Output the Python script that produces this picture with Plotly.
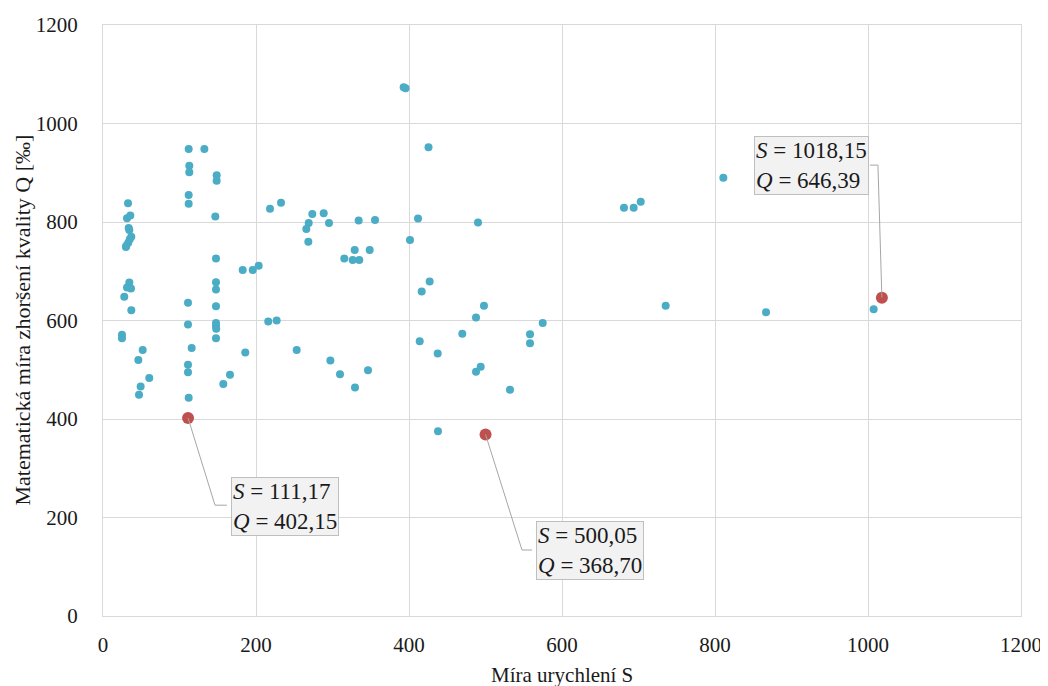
import plotly.graph_objects as go

# Blue data points (S, Q)
s_vals = [112, 132.5, 112.8, 112.8, 148.6, 148.6, 112, 112, 32.7, 146.8,
          31.4, 35.7, 33.6, 34.4, 37, 35, 33, 30.5, 30, 147.7,
          182.6, 195.7, 203.5, 34.4, 31.4, 36.6, 27.8, 147.7, 147.7, 37,
          111.1, 147.7, 111.1, 147.7, 147.7, 148, 147.7, 216, 227, 24.8,
          24.8, 115.9, 51.9, 46.2, 186, 111.1, 111.1, 60.5, 49.2, 47.1,
          166, 157.3, 112, 218.3, 232.7, 273.6, 288.5, 268.9, 265.8, 295.4,
          268.4, 334.2, 355.6, 411.8, 401.3, 425.5, 329, 348.6, 315.4, 326.4,
          335, 427, 416.6, 414, 437.5, 253.2, 297.2, 309.8, 346.4, 329.4,
          393, 395.5, 490.2, 498, 487.6, 574.8, 558.2, 558.2, 469.7, 493.7,
          487.6, 532, 437.9, 681, 693.7, 702.9, 810.9, 735.5, 866.7, 1007.4]
q_vals = [948, 948, 914, 901, 895, 884, 855, 837, 838, 811,
          807.5, 813, 788, 784, 770, 765, 758, 752, 749, 726,
          702.5, 702.5, 711, 677, 667, 665, 648, 677.5, 663, 621,
          636, 629, 592, 595, 589, 583, 564, 598, 600, 571,
          564, 544, 540, 520, 535, 510, 495, 483, 466, 449,
          490, 471, 443, 827, 839, 816, 818, 798, 786, 798,
          760, 803, 804, 807, 763.5, 952, 743, 743, 726, 723,
          723, 679, 659, 558, 533, 540, 519, 491, 499, 464,
          1073.5, 1071.5, 799, 630, 606, 595, 572, 554, 573, 506,
          496, 459.5, 375, 829, 829, 841, 890, 630, 617, 623]

# Highlighted points
hl_s = [111.17, 500.05, 1018.15]
hl_q = [402.15, 368.70, 646.39]
hl_labels = ["<i>S</i> = 111,17<br><i>Q</i> = 402,15",
             "<i>S</i> = 500,05<br><i>Q</i> = 368,70",
             "<i>S</i> = 1018,15<br><i>Q</i> = 646,39"]

x_ticks = [0, 200, 400, 600, 800, 1000, 1200]
y_ticks = [0, 200, 400, 600, 800, 1000, 1200]

x_title = "Míra urychlení S"
y_title = "Matematická míra zhoršení kvality Q [‰]"

# Label box placement (data coords): center, elbow, box edge
label_pos = [(238, 223), (636.5, 134), (925.5, 915.5)]
elbows = [(146.4, 225), (547.7, 134), (1013, 915.5)]
edges = [(162, 225), (560.8, 134), (1002.6, 915.5)]

FONT = "Liberation Serif"
BLUE = "#4BACC6"
RED = "#C0504D"
TXT = "#1a1a1a"

fig = go.Figure()
fig.add_trace(go.Scatter(x=s_vals, y=q_vals, mode="markers",
                         marker=dict(color=BLUE, size=8, line=dict(width=0)),
                         showlegend=False, hoverinfo="skip"))

shapes = []
for (px, py), (ex, ey), (bx, by) in zip(zip(hl_s, hl_q), elbows, edges):
    shapes.append(dict(type="path", xref="x", yref="y",
                       path=f"M {px},{py} L {ex},{ey} L {bx},{by}",
                       line=dict(color="#A6A6A6", width=1)))

fig.add_trace(go.Scatter(x=hl_s, y=hl_q, mode="markers",
                         marker=dict(color=RED, size=12, line=dict(width=0)),
                         showlegend=False, hoverinfo="skip"))

annotations = []
for (lx, ly), txt in zip(label_pos, hl_labels):
    annotations.append(dict(x=lx, y=ly, xref="x", yref="y", text=txt,
                            showarrow=False, align="left",
                            font=dict(family=FONT, size=23, color=TXT),
                            bgcolor="#F2F2F2", bordercolor="#BFBFBF",
                            borderwidth=1, borderpad=1))

annotations.append(dict(x=0.5, y=-0.0998, xref="paper", yref="paper",
                        text=x_title, showarrow=False, xanchor="center", yanchor="middle",
                        font=dict(family=FONT, size=21, color=TXT)))
annotations.append(dict(x=-0.0882, y=0.5, xref="paper", yref="paper",
                        text=y_title, showarrow=False, xanchor="center", yanchor="middle",
                        textangle=-90,
                        font=dict(family=FONT, size=22, color=TXT)))

# page body has an 8px margin, so the figure is sized/margined to compensate
fig.update_layout(
    width=1040, height=678,
    margin=dict(l=95, r=27, t=17, b=70),
    paper_bgcolor="white", plot_bgcolor="white",
    font=dict(family=FONT, size=21, color=TXT),
    shapes=shapes, annotations=annotations,
    xaxis=dict(range=[0, 1200], tickvals=x_ticks, showgrid=True,
               gridcolor="#D9D9D9", gridwidth=1, showline=True,
               linecolor="#D9D9D9", mirror=True, zeroline=False,
               ticks="", ticklabelstandoff=10, automargin=False,
               tickfont=dict(family=FONT, size=21, color=TXT)),
    yaxis=dict(range=[0, 1200], tickvals=y_ticks, showgrid=True,
               gridcolor="#D9D9D9", gridwidth=1, showline=True,
               linecolor="#D9D9D9", mirror=True, zeroline=False,
               ticks="", ticklabelstandoff=20, automargin=False,
               tickfont=dict(family=FONT, size=21, color=TXT)),
)

fig.write_html("out.html")
